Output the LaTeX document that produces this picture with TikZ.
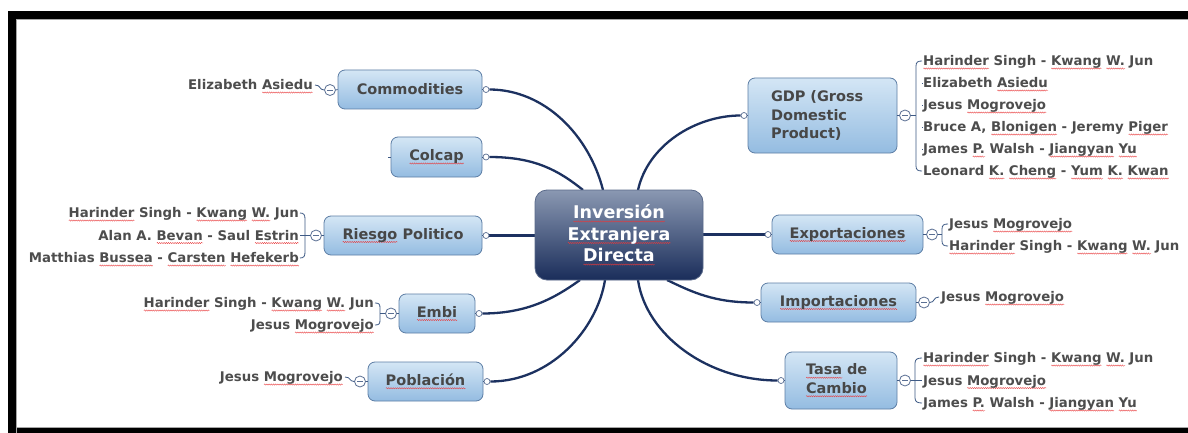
\documentclass[tikz,border=0pt]{standalone}
\usepackage{fontspec}
\setmainfont{DejaVu Sans}
\usetikzlibrary{calc,backgrounds,decorations.pathmorphing}

\definecolor{navy}{HTML}{1C3160}
\definecolor{boxtop}{HTML}{D4E6F5}
\definecolor{boxbot}{HTML}{94BCE1}
\definecolor{boxline}{HTML}{5D7EA5}
\definecolor{boxtext}{HTML}{474747}
\definecolor{leaftext}{HTML}{4D4D4D}
\definecolor{twigcol}{HTML}{3E5A85}
\definecolor{foldcol}{HTML}{5A6F93}
\definecolor{coretop}{HTML}{8A98B2}
\definecolor{coremid}{HTML}{213768}
\definecolor{corebot}{HTML}{1A2D5A}
\definecolor{coreline}{HTML}{5A6A8A}
\definecolor{spell}{HTML}{E8383A}

% red wavy underline for words flagged by the spell checker
\newcommand\sq[1]{\leavevmode\setbox0=\hbox{#1}\rlap{\tikz[baseline=0pt,x=1pt,y=1pt]
  \draw[shade=false,fill=none,sharp corners,draw=spell,line width=0.35pt,decorate,
    decoration={snake,segment length=2.2pt,amplitude=0.65pt}]
  (0,-2.8) -- (\the\wd0,-2.8);}\box0\relax}

\begin{document}
\begin{tikzpicture}[x=1pt,y=-1pt,
  core/.style={rounded corners=12pt, draw=coreline, line width=0.8pt,
    top color=coretop, middle color=coremid, bottom color=corebot,
    text=white, align=center, inner sep=0pt,
    minimum width=168pt, minimum height=90pt,
    font=\fontsize{17.5}{21.5}\selectfont\bfseries},
  branch/.style={rounded corners=7pt, draw=boxline, line width=0.8pt,
    top color=boxtop, bottom color=boxbot, text=boxtext, inner sep=0pt,
    font=\fontsize{14.5}{18.5}\selectfont\bfseries},
  leaf/.style={inner sep=0pt, text=leaftext, text height=9.5pt, text depth=0pt,
    font=\fontsize{13.3}{15}\selectfont\bfseries},
  link/.style={draw=navy, line width=2.3pt},
  port/.style={circle, draw=foldcol, fill=white, line width=0.7pt,
    minimum size=6pt, inner sep=0pt},
  fold/.style={circle, draw=foldcol, fill=white, line width=0.8pt,
    minimum size=11pt, inner sep=0pt,
    path picture={\draw[foldcol, line width=0.9pt]
      ([xshift=-2.6pt]path picture bounding box.center) --
      ([xshift=2.6pt]path picture bounding box.center);}},
  twig/.style={draw=twigcol, line width=0.8pt}
]
\useasboundingbox (0,0) rectangle (1188,433);

% central topic
\node[core] (core) at (619,235) {\sq{Inversión}\\\sq{Extranjera}\\\sq{Directa}};

% attachment points on the central topic
\coordinate (cCom) at (603,190);
\coordinate (cCol) at (583,190);
\coordinate (cGdp) at (638,190);
\coordinate (cEmb) at (580,280);
\coordinate (cPob) at (605,280);
\coordinate (cImp) at (667,280);
\coordinate (cTas) at (638,280);

% ports
\node[port] (pCom) at (486,89.5) {};
\node[port] (pCol) at (486,157) {};
\node[port] (pRie) at (486,235.5) {};
\node[port] (pEmb) at (479,313.5) {};
\node[port] (pPob) at (487,381.5) {};
\node[port] (pGdp) at (744,115.5) {};
\node[port] (pExp) at (768,234.5) {};
\node[port] (pImp) at (757,302.5) {};
\node[port] (pTas) at (781,380.5) {};

% page, frame and main links underneath everything else
\begin{scope}[on background layer]
\fill[white] (0,0) rectangle (1188,433);
\fill[black] (8,11) rectangle (1188,19);
\fill[black] (8,11) rectangle (16,433);
\fill[black] (8,428) rectangle (1188,433);
\draw[gray!70, line width=0.6pt] (16.3,433) -- (16.3,19.3) -- (1188,19.3);
\draw[gray!70, line width=0.6pt] (16.3,427.7) -- (1188,427.7);

\draw[link] (pCom.east) .. controls +(55,0) and +(-14,-55) .. (cCom);
\draw[link] (pCol.east) .. controls +(45,0) and +(-25,-20) .. (cCol);
\draw[link] (pRie.east) -- (pRie.east -| core.west);
\draw[link] (pEmb.east) .. controls +(45,0) and +(-25,18) .. (cEmb);
\draw[link] (pPob.east) .. controls +(60,0) and +(-8,50) .. (cPob);
\draw[link] (pGdp.west) .. controls +(-45,0) and +(10,-45) .. (cGdp);
\draw[link] (pExp.west) -- (pExp.west -| core.east);
\draw[link] (pImp.west) .. controls +(-40,0) and +(25,12) .. (cImp);
\draw[link] (pTas.west) .. controls +(-70,0) and +(8,55) .. (cTas);
\end{scope}

% branch topics
\node[branch, minimum width=144pt, minimum height=39pt] (bCom) at (410,89.5) {Commodities};
\node[branch, minimum width=91pt, minimum height=40pt] (bCol) at (436.5,157) {\sq{Colcap}};
\node[branch, minimum width=158pt, minimum height=39pt] (bRie) at (403,235.5) {\sq{Riesgo} Politico};
\node[branch, minimum width=76pt, minimum height=39pt] (bEmb) at (437,313.5) {\sq{Embi}};
\node[branch, minimum width=115pt, minimum height=39pt] (bPob) at (425.5,381.5) {\sq{Población}};
\node[branch, minimum width=149pt, minimum height=75pt, align=left, text width=103pt] (bGdp) at (822.5,115.5) {GDP (Gross\\Domestic\\Product)};
\node[branch, minimum width=151pt, minimum height=39pt] (bExp) at (847.5,234.5) {\sq{Exportaciones}};
\node[branch, minimum width=155pt, minimum height=39pt] (bImp) at (838.5,302.5) {\sq{Importaciones}};
\node[branch, minimum width=112pt, minimum height=57pt, align=left, text width=70pt] (bTas) at (841,380.5) {\sq{Tasa} de\\\sq{Cambio}};

% box-to-port ties
\draw[twig] (bCom.east) -- (pCom.west);
\draw[twig] (bCol.east) -- (pCol.west);
\draw[twig] (bRie.east) -- (pRie.west);
\draw[twig] (bEmb.east) -- (pEmb.west);
\draw[twig] (bPob.east) -- (pPob.west);
\draw[twig] (bGdp.west) -- (pGdp.east);
\draw[twig] (bExp.west) -- (pExp.east);
\draw[twig] (bImp.west) -- (pImp.east);
\draw[twig] (bTas.west) -- (pTas.east);
\draw[twig] (bCol.west) -- ++(-3,0);

% fold buttons
\node[fold] (fCom) at (330,90) {};
\node[fold] (fRie) at (316,235.5) {};
\node[fold] (fEmb) at (391,313.5) {};
\node[fold] (fPob) at (360,381.5) {};
\node[fold] (fGdp) at (905,115.5) {};
\node[fold] (fExp) at (932,234.5) {};
\node[fold] (fImp) at (924,302.5) {};
\node[fold] (fTas) at (905,380.5) {};
\draw[twig] (bCom.west) -- (fCom.east);
\draw[twig] (bRie.west) -- (fRie.east);
\draw[twig] (bEmb.west) -- (fEmb.east);
\draw[twig] (bPob.west) -- (fPob.east);
\draw[twig] (bGdp.east) -- (fGdp.west);
\draw[twig] (bExp.east) -- (fExp.west);
\draw[twig] (bImp.east) -- (fImp.west);
\draw[twig] (bTas.east) -- (fTas.west);

% references, left side
\node[leaf, anchor=east] (lCom1) at (313,85) {Elizabeth \sq{Asiedu}};

\node[leaf, anchor=east] (lRie1) at (299,213) {\sq{Harinder} Singh - \sq{Kwang} \sq{W.} Jun};
\node[leaf, anchor=east] (lRie2) at (299,235.5) {Alan A. \sq{Bevan} - Saul \sq{Estrin}};
\node[leaf, anchor=east] (lRie3) at (299,258) {Matthias \sq{Bussea} - \sq{Carsten} \sq{Hefekerb}};

\node[leaf, anchor=east] (lEmb1) at (374,303) {\sq{Harinder} Singh - \sq{Kwang} \sq{W.} Jun};
\node[leaf, anchor=east] (lEmb2) at (374,325) {Jesus \sq{Mogrovejo}};

\node[leaf, anchor=east] (lPob1) at (343,377) {Jesus \sq{Mogrovejo}};

% references, right side
\node[leaf, anchor=west] (lGdp1) at (923,61) {\sq{Harinder} Singh - \sq{Kwang} \sq{W.} Jun};
\node[leaf, anchor=west] (lGdp2) at (923,83) {Elizabeth \sq{Asiedu}};
\node[leaf, anchor=west] (lGdp3) at (923,105) {Jesus \sq{Mogrovejo}};
\node[leaf, anchor=west] (lGdp4) at (923,127) {Bruce A, \sq{Blonigen} - Jeremy \sq{Piger}};
\node[leaf, anchor=west] (lGdp5) at (923,149) {James \sq{P.} Walsh - \sq{Jiangyan} \sq{Yu}};
\node[leaf, anchor=west] (lGdp6) at (923,171) {Leonard \sq{K.} \sq{Cheng} - \sq{Yum} \sq{K.} \sq{Kwan}};

\node[leaf, anchor=west] (lExp1) at (949,224) {Jesus \sq{Mogrovejo}};
\node[leaf, anchor=west] (lExp2) at (949,246) {\sq{Harinder} Singh - \sq{Kwang} \sq{W.} Jun};

\node[leaf, anchor=west] (lImp1) at (941,297) {Jesus \sq{Mogrovejo}};

\node[leaf, anchor=west] (lTas1) at (923,358) {\sq{Harinder} Singh - \sq{Kwang} \sq{W.} Jun};
\node[leaf, anchor=west] (lTas2) at (923,380.5) {Jesus \sq{Mogrovejo}};
\node[leaf, anchor=west] (lTas3) at (923,403) {James \sq{P.} Walsh - \sq{Jiangyan} \sq{Yu}};

% single-child ties
\draw[twig] ([xshift=2pt]lCom1.east) .. controls +(6,0) and +(-5,0) .. (fCom.west);
\draw[twig] ([xshift=2pt]lPob1.east) .. controls +(6,0) and +(-5,0) .. (fPob.west);
\draw[twig] (fImp.east) .. controls +(5,0) and +(-6,0) .. ([xshift=-2pt]lImp1.west);

% brackets
\draw[twig] ([xshift=1pt]lRie1.east) .. controls +(4,0) and +(0,-4) .. (305,219) -- (305,252)
  .. controls +(0,4) and +(4,0) .. ([xshift=1pt]lRie3.east);
\draw[twig] ([xshift=1pt]lRie2.east) -- (fRie.west);

\draw[twig] ([xshift=1pt]lEmb1.east) .. controls +(4,0) and +(0,-4) .. (380,308) -- (380,320)
  .. controls +(0,4) and +(4,0) .. ([xshift=1pt]lEmb2.east);
\draw[twig] (380,313.5) -- (fEmb.west);

\draw[twig] ([xshift=-1pt]lGdp1.west) .. controls +(-4,0) and +(0,-4) .. (916,66) -- (916,166)
  .. controls +(0,4) and +(-4,0) .. ([xshift=-1pt]lGdp6.west);
\foreach \l in {lGdp2,lGdp3,lGdp4,lGdp5}
  \draw[twig] (\l.west -| fGdp.east) ++(11,0) -- ([xshift=-1pt]\l.west);
\draw[twig] (fGdp.east) -- (916,115.5);

\draw[twig] ([xshift=-1pt]lExp1.west) .. controls +(-4,0) and +(0,-4) .. (942,229) -- (942,241)
  .. controls +(0,4) and +(-4,0) .. ([xshift=-1pt]lExp2.west);
\draw[twig] (fExp.east) -- (942,234.5);

\draw[twig] ([xshift=-1pt]lTas1.west) .. controls +(-4,0) and +(0,-4) .. (915,363) -- (915,398)
  .. controls +(0,4) and +(-4,0) .. ([xshift=-1pt]lTas3.west);
\draw[twig] (fTas.east) -- ([xshift=-1pt]lTas2.west);
\end{tikzpicture}
\end{document}
